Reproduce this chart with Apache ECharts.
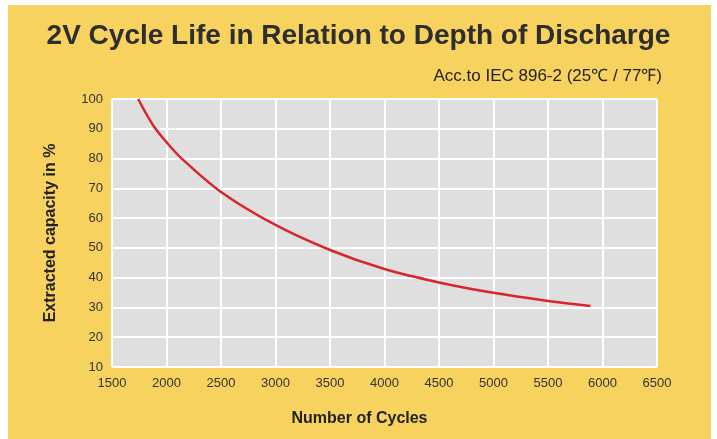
<!DOCTYPE html>
<html>
<head>
<meta charset="utf-8">
<script src="https://cdn.jsdelivr.net/npm/echarts@6/dist/echarts.min.js"></script>
<style>
  html, body { margin: 0; padding: 0; background: #fff; }
  #chart { width: 717px; height: 439px; }
</style>
</head>
<body>
<div id="chart"></div>
<script>
// cycles vs depth of discharge
const cycles = [1740, 1880, 2000, 2140, 2500, 3000, 3500, 4000, 4500, 5000, 5500, 5890];
const capacity = [100, 91, 85.5, 80, 68.8, 57.7, 49.3, 42.9, 38.4, 34.9, 32.2, 30.5];

const titleText = '2V Cycle Life in Relation to Depth of Discharge';
const subText = 'Acc.to IEC 896-2 (25\u2103 / 77\u2109)';

const chartDom = document.getElementById('chart');
const myChart = echarts.init(chartDom);

const points = cycles.map((c, i) => [c, capacity[i]]);

let option = {
  backgroundColor: '#ffffff',
  textStyle: { fontFamily: 'Liberation Sans, Arial, sans-serif' },
  graphic: [
    {
      type: 'rect',
      z: -10,
      shape: { x: 8, y: 5, width: 703, height: 440 },
      style: { fill: '#f8d25f' },
    },
    {
      type: 'text',
      left: 'center',
      top: 22,
      style: {
        text: titleText,
        fill: '#2e2e2e',
        font: 'bold 28px "Liberation Sans", Arial, sans-serif',
      },
    },
    {
      type: 'text',
      right: 55,
      top: 68,
      style: {
        text: subText,
        fill: '#222',
        font: '17px "Liberation Sans", Arial, sans-serif',
      },
    },
  ],
  grid: {
    left: 112,
    right: 60,
    top: 99,
    bottom: 72,
    show: true,
    backgroundColor: '#dfdfdf',
    borderWidth: 0,
  },
  xAxis: {
    type: 'value',
    min: 1500,
    max: 6500,
    interval: 500,
    name: 'Number of Cycles',
    nameLocation: 'middle',
    nameGap: 44,
    nameTextStyle: {
      fontWeight: 'bold',
      fontSize: 16,
      color: '#222',
      padding: [0, 50, 0, 0],
    },
    axisLine: { show: false },
    axisTick: { show: false },
    axisLabel: {
      color: '#333',
      fontSize: 13,
      margin: 10,
      formatter: (v) => String(v),
    },
    splitLine: { show: true, lineStyle: { color: '#ffffff', width: 2 } },
  },
  yAxis: {
    type: 'value',
    min: 10,
    max: 100,
    interval: 10,
    name: 'Extracted capacity in %',
    nameLocation: 'middle',
    nameGap: 53,
    nameTextStyle: { fontWeight: 'bold', fontSize: 16, color: '#222' },
    axisLine: { show: false },
    axisTick: { show: false },
    axisLabel: { color: '#333', fontSize: 13, margin: 9 },
    splitLine: { show: true, lineStyle: { color: '#ffffff', width: 2 } },
  },
  series: [
    {
      type: 'line',
      data: points,
      smooth: 0.35,
      showSymbol: false,
      lineStyle: { color: '#d8262d', width: 2.5 },
    },
  ],
};

option && myChart.setOption(option);
</script>
</body>
</html>
